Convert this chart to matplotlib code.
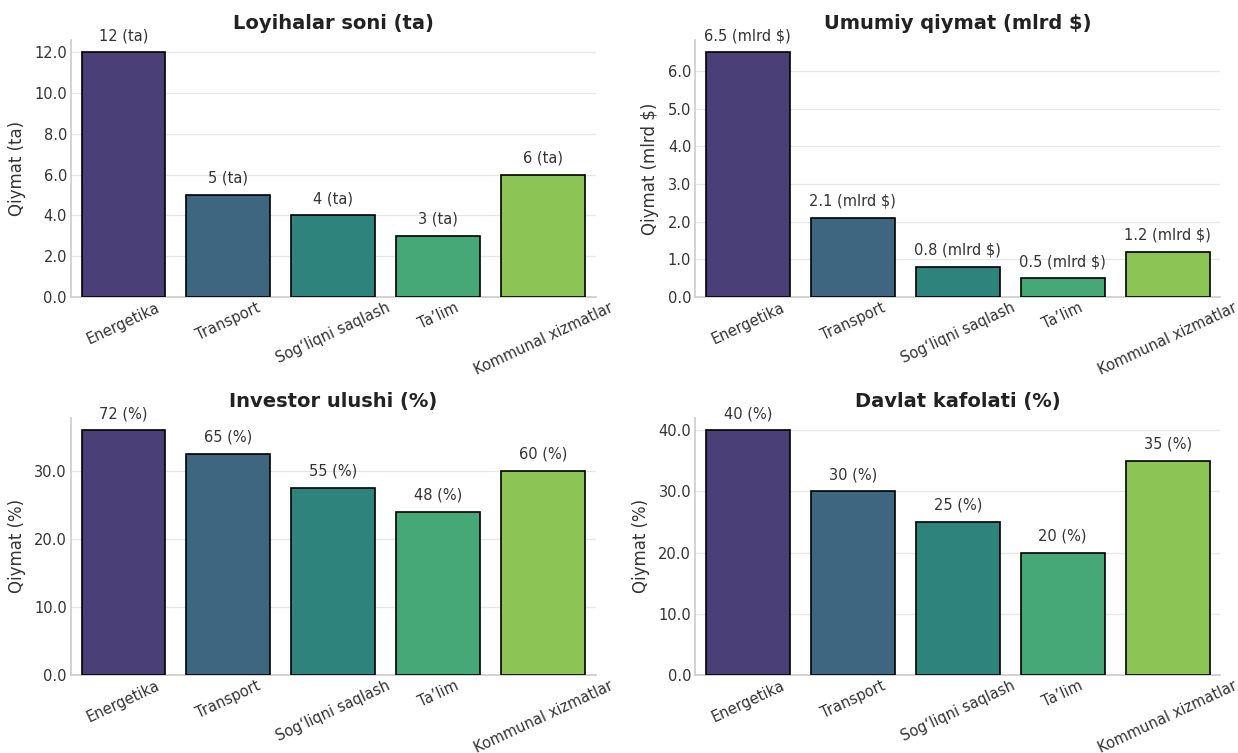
import matplotlib
matplotlib.use("Agg")
import matplotlib.pyplot as plt
from matplotlib.ticker import FormatStrFormatter, MultipleLocator
import seaborn as sns

categories = ["Energetika", "Transport", "Sog‘liqni saqlash", "Ta’lim", "Kommunal xizmatlar"]

projects = [12, 5, 4, 3, 6]
projects_labels = ["12 (ta)", "5 (ta)", "4 (ta)", "3 (ta)", "6 (ta)"]

total_value = [6.5, 2.1, 0.8, 0.5, 1.2]
total_labels = ["6.5 (mlrd $)", "2.1 (mlrd $)", "0.8 (mlrd $)", "0.5 (mlrd $)", "1.2 (mlrd $)"]

# bars in the source are drawn at half the printed share
investor_bars = [36, 32.5, 27.5, 24, 30]
investor_labels = ["72 (%)", "65 (%)", "55 (%)", "48 (%)", "60 (%)"]

guarantee = [40, 30, 25, 20, 35]
guarantee_labels = ["40 (%)", "30 (%)", "25 (%)", "20 (%)", "35 (%)"]

colors = ["#4b3f77", "#3e6680", "#2e837c", "#46a877", "#8cc556"]

panels = [
    ("Loyihalar soni (ta)", "Qiymat (ta)", projects, projects_labels, 2),
    ("Umumiy qiymat (mlrd $)", "Qiymat (mlrd $)", total_value, total_labels, 1),
    ("Investor ulushi (%)", "Qiymat (%)", investor_bars, investor_labels, 10),
    ("Davlat kafolati (%)", "Qiymat (%)", guarantee, guarantee_labels, 10),
]


def main():
    sns.set_style("whitegrid")
    plt.rcParams["font.family"] = ["DejaVu Sans"]

    fig, axes = plt.subplots(2, 2, figsize=(12.38, 7.53), dpi=100)
    fig.subplots_adjust(left=0.0574, right=0.9855, top=0.947, bottom=0.1036, wspace=0.19, hspace=0.47)

    for ax, (title, ylabel, values, labels, step) in zip(axes.flat, panels):
        x = range(len(categories))
        bars = ax.bar(x, values, width=0.8, color=colors, edgecolor="black", linewidth=1.2, zorder=3)
        ax.set_ylim(0, max(values) * 1.05)
        ax.set_xlim(-0.5, len(categories) - 0.5)
        for b, lab in zip(bars, labels):
            ax.annotate(lab, (b.get_x() + b.get_width() / 2, b.get_height()),
                        xytext=(0, 6.5), textcoords="offset points",
                        ha="center", va="bottom", fontsize=10.5, color="#333333")
        ax.set_title(title, fontsize=14, fontweight="bold", color="#222222", pad=8)
        ax.set_ylabel(ylabel, fontsize=12, color="#333333", labelpad=6)
        ax.set_xticks(list(x))
        ax.set_xticklabels(categories, rotation=25, ha="center", fontsize=10.5, color="#333333")
        ax.yaxis.set_major_locator(MultipleLocator(step))
        ax.yaxis.set_major_formatter(FormatStrFormatter("%.1f"))
        ax.tick_params(axis="y", labelsize=10.5, colors="#333333", pad=3, length=0)
        ax.tick_params(axis="x", pad=2, length=0)
        ax.grid(axis="x", visible=False)
        ax.grid(axis="y", color="#e6e6e6", linewidth=0.9)
        for side in ["top", "right"]:
            ax.spines[side].set_visible(False)
        for side in ["left", "bottom"]:
            ax.spines[side].set_color("#cccccc")
            ax.spines[side].set_linewidth(1.2)

    fig.savefig("out.png", dpi=100)


if __name__ == "__main__":
    main()
